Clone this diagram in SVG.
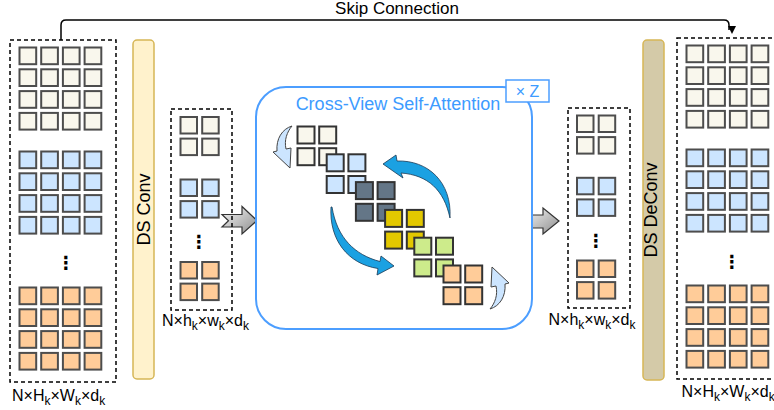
<svg xmlns="http://www.w3.org/2000/svg" xmlns:xlink="http://www.w3.org/1999/xlink" width="774" height="410" viewBox="0 0 774 410">
<style>
text{font-family:"Liberation Sans",Arial,sans-serif;fill:#000}
.dash{fill:none;stroke:#000;stroke-width:1.5;stroke-dasharray:4 3}
.c{stroke:#4d4d4d;stroke-width:2}
.b{stroke:#333;stroke-width:2}
.beige{fill:#f9f7ed}.blue{fill:#cce5ff}.orange{fill:#ffcc99}
.slate{fill:#647687}.yellow{fill:#e3c800}.green{fill:#cdeb8b}
.lbl{font-size:16px}
.sub{font-size:12px}
.dots{font-family:"DejaVu Sans",sans-serif;font-size:18px;font-weight:bold}
.bar{font-size:18px}
.blueT{fill:#3d9bff}
</style>
<defs>
<linearGradient id="gg" x1="0" y1="0" x2="1" y2="1">
<stop offset="0" stop-color="#f7f7f7"/>
<stop offset="1" stop-color="#8c8c8c"/>
</linearGradient>
<marker id="ah" markerWidth="8" markerHeight="8" refX="4" refY="7" orient="auto-start-reverse" markerUnits="userSpaceOnUse" viewBox="0 0 8 8">
<path d="M0,0 L8,0 L4,8 Z" transform="rotate(-90 4 4)" fill="#000"/>
</marker>
<path id="smallArrow" d="M9,-21 C-1,-18 -7,-8 -6,4 L-10,5 L7,21 L8,1 L3,2 C1,-7 4,-15 9,-21 Z" fill="#cce5ff" stroke="#444" stroke-width="1"/>
<g id="c2x2b">
<rect x="1" y="1" width="17" height="17"/><rect x="22.7" y="1" width="17" height="17"/>
<rect x="1" y="22.7" width="17" height="17"/><rect x="22.7" y="22.7" width="17" height="17"/>
</g>
<g id="g4">
<rect x="1" y="1" width="16.7" height="16.7"/><rect x="22.7" y="1" width="16.7" height="16.7"/><rect x="44.4" y="1" width="16.7" height="16.7"/><rect x="66.1" y="1" width="16.7" height="16.7"/>
<rect x="1" y="22.8" width="16.7" height="16.7"/><rect x="22.7" y="22.8" width="16.7" height="16.7"/><rect x="44.4" y="22.8" width="16.7" height="16.7"/><rect x="66.1" y="22.8" width="16.7" height="16.7"/>
<rect x="1" y="44.6" width="16.7" height="16.7"/><rect x="22.7" y="44.6" width="16.7" height="16.7"/><rect x="44.4" y="44.6" width="16.7" height="16.7"/><rect x="66.1" y="44.6" width="16.7" height="16.7"/>
<rect x="1" y="66.4" width="16.7" height="16.7"/><rect x="22.7" y="66.4" width="16.7" height="16.7"/><rect x="44.4" y="66.4" width="16.7" height="16.7"/><rect x="66.1" y="66.4" width="16.7" height="16.7"/>
</g>
<g id="g2">
<rect x="1" y="1" width="16.5" height="16.5"/><rect x="22.7" y="1" width="16.5" height="16.5"/>
<rect x="1" y="22.6" width="16.5" height="16.5"/><rect x="22.7" y="22.6" width="16.5" height="16.5"/>
</g>
</defs>

<!-- connectors -->
<g id="connectors">
<path d="M61,40 V25 Q61,20 66,20 H724 Q729,20 729,25 V30" fill="none" stroke="#000" stroke-width="1.5" marker-end="url(#ah)"/>
<text x="397" y="14" text-anchor="middle" style="font-size:17px">Skip Connection</text>
<path d="M222,214.5 L242,214.5 L242,206.5 L257,220.5 L242,234 L242,227 L222,227 L228.5,220.8 Z" fill="url(#gg)" stroke="#333" stroke-width="1.2"/>
<path d="M525,215 L543,215 L543,208 L559,221 L543,234 L543,228 L525,228 L531.5,221.5 Z" fill="url(#gg)" stroke="#333" stroke-width="1.2"/>
</g>

<!-- left big input -->
<g id="input">
<rect class="dash" x="10" y="40" width="106" height="342"/>
<use href="#g4" class="c beige" x="18.5" y="46.5"/>
<use href="#g4" class="c blue" x="18.5" y="150.5"/>
<use href="#g4" class="c orange" x="18.5" y="286.5"/>
<text class="dots" x="66" y="269" text-anchor="middle">⋮</text>
<text class="lbl" x="12" y="401">N×H<tspan class="sub" dy="4">k</tspan><tspan dy="-4">×W</tspan><tspan class="sub" dy="4">k</tspan><tspan dy="-4">×d</tspan><tspan class="sub" dy="4">k</tspan></text>
</g>

<g id="dsconv">
<rect x="133" y="40" width="21" height="339" rx="4" fill="#fff2cc" stroke="#d6b656" stroke-width="1.5"/>
<text class="bar" transform="translate(150,209.5) rotate(-90)" text-anchor="middle">DS Conv</text>
</g>

<g id="small-in">
<rect class="dash" x="171" y="109" width="61" height="201"/>
<use href="#g2" class="c beige" x="179.5" y="116"/>
<use href="#g2" class="c blue" x="179.5" y="178.5"/>
<use href="#g2" class="c orange" x="179.5" y="261"/>
<text class="dots" x="199" y="248" text-anchor="middle">⋮</text>
<text class="lbl" x="162" y="326">N×h<tspan class="sub" dy="4">k</tspan><tspan dy="-4">×w</tspan><tspan class="sub" dy="4">k</tspan><tspan dy="-4">×d</tspan><tspan class="sub" dy="4">k</tspan></text>
</g>

<g id="attention">
<rect x="256" y="87" width="276" height="242" rx="30" fill="#fff" stroke="#4c9eff" stroke-width="2"/>
<text x="398" y="110" text-anchor="middle" class="blueT" style="font-size:18px;fill:#3d9bff">Cross-View Self-Attention</text>
<use href="#smallArrow" transform="translate(283,147)"/>
<use href="#smallArrow" transform="translate(499,288) rotate(180)"/>
<use href="#c2x2b" class="b beige" transform="translate(296.5,125.5)"/>
<use href="#c2x2b" class="b blue" transform="translate(325.7,153.3)"/>
<use href="#c2x2b" class="b slate" transform="translate(354.9,181.1)"/>
<use href="#c2x2b" class="b yellow" transform="translate(384.1,208.9)"/>
<use href="#c2x2b" class="b green" transform="translate(413.3,236.7)"/>
<use href="#c2x2b" class="b orange" transform="translate(442.5,264.5)"/>
<path d="M383,164 L396,155 L397,161 C428,160 452,182 450,218 C444,190 428,175 401,173 L403,178 Z" fill="#1ba1e2" stroke="#1a3a55" stroke-width="0.8"/>
<path d="M331,207 C329,240 348,264 378,268.5 L377,275 L394,266 L381,256 L380,261.5 C355,255 337,238 332,207 Z" fill="#1ba1e2" stroke="#1a3a55" stroke-width="0.8"/>
</g>
<g id="repeat">
<rect x="506" y="80" width="43" height="22" fill="#fff" stroke="#4c9eff" stroke-width="1.5"/>
<text x="527.5" y="97" text-anchor="middle" style="font-size:16px;fill:#3d9bff">× Z</text>
</g>

<g id="small-out">
<rect class="dash" x="568" y="108" width="62" height="200"/>
<use href="#g2" class="c beige" x="576" y="114.5"/>
<use href="#g2" class="c blue" x="576" y="176.8"/>
<use href="#g2" class="c orange" x="576" y="259.5"/>
<text class="dots" x="596" y="247" text-anchor="middle">⋮</text>
<text class="lbl" x="548.5" y="325">N×h<tspan class="sub" dy="4">k</tspan><tspan dy="-4">×w</tspan><tspan class="sub" dy="4">k</tspan><tspan dy="-4">×d</tspan><tspan class="sub" dy="4">k</tspan></text>
</g>

<g id="dsdeconv">
<rect x="643" y="40" width="21" height="340" rx="4" fill="#d4caa8" stroke="#d6b656" stroke-width="1.5"/>
<text class="bar" transform="translate(657,210) rotate(-90)" text-anchor="middle">DS DeConv</text>
</g>

<g id="output">
<rect class="dash" x="677" y="38" width="104" height="341"/>
<use href="#g4" class="c beige" x="685.5" y="44.5"/>
<use href="#g4" class="c blue" x="685.5" y="148.5"/>
<use href="#g4" class="c orange" x="685.5" y="284.5"/>
<text class="dots" x="732" y="268" text-anchor="middle">⋮</text>
<text class="lbl" x="681.5" y="397">N×H<tspan class="sub" dy="4">k</tspan><tspan dy="-4">×W</tspan><tspan class="sub" dy="4">k</tspan><tspan dy="-4">×d</tspan><tspan class="sub" dy="4">k</tspan></text>
</g>
</svg>
